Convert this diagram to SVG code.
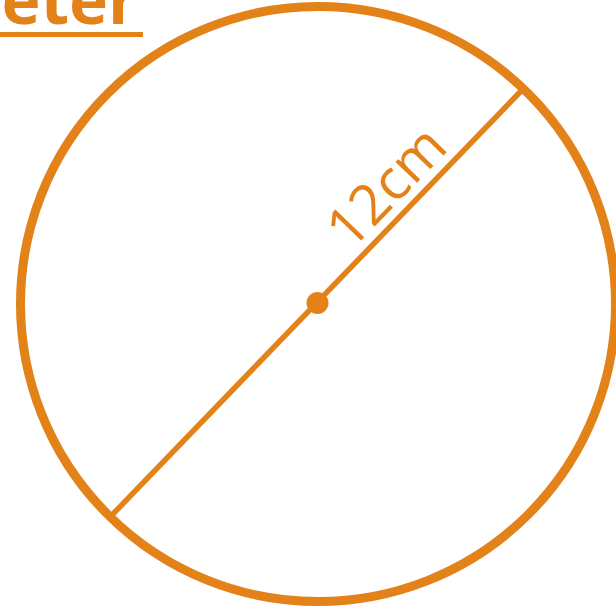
<svg xmlns="http://www.w3.org/2000/svg" width="616" height="610" viewBox="0 0 616 610">
  <style>
    .o { stroke: #E4821A; fill: none; }
    .t { fill: #E4821A; font-family: "Open Sans", "Noto Sans", sans-serif; }
  </style>
  <rect width="616" height="610" fill="#ffffff"/>
  <g id="title">
    <text class="t" x="138" y="24" font-size="66" font-weight="700" text-anchor="end">eter</text>
    <rect x="0" y="32" width="143" height="5" fill="#E4821A"/>
  </g>
  <g id="circle">
    <circle class="o" cx="318" cy="304" r="297.5" stroke-width="9"/>
  </g>
  <g id="connectors">
    <line class="o" x1="112" y1="515" x2="522" y2="90" stroke-width="5.5"/>
  </g>
  <g id="center">
    <circle cx="317.5" cy="303" r="11" fill="#E4821A"/>
  </g>
  <g id="label">
    <text class="t" font-size="56" transform="translate(317.5,303) rotate(-46)" x="60" y="-12">12cm</text>
  </g>
</svg>
